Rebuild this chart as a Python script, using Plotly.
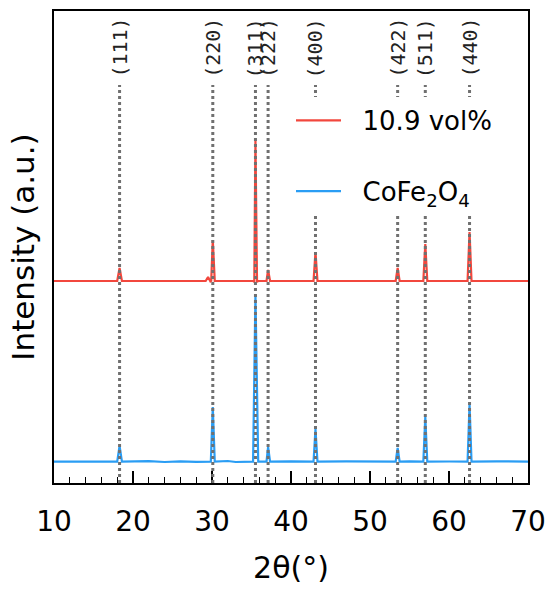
import plotly.graph_objects as go

# Peak positions (2theta, deg) and Miller indices
peak_pos = [18.3, 30.1, 35.5, 37.1, 43.1, 53.5, 57.0, 62.6]
peak_hkl = ["(111)", "(220)", "(311)", "(222)", "(400)", "(422)", "(511)", "(440)"]

# 10.9 vol% pattern (offset trace), arbitrary units
red_x = [10, 18.0, 18.3, 18.6, 29.2, 29.5, 29.8, 29.9, 30.1, 30.35, 35.2, 35.35,
         35.5, 35.7, 35.85, 36.9, 37.1, 37.35, 42.85, 43.1, 43.35, 53.25, 53.5,
         53.75, 56.75, 57.0, 57.25, 62.35, 62.6, 62.85, 70]
red_y = [202, 202, 215, 202, 202, 206, 201.5, 202, 243, 202, 202, 201,
         343, 201, 202, 202, 213, 202, 202, 231, 202, 202, 215,
         202, 202, 239, 202, 202, 251, 202, 202]

# CoFe2O4 pattern, arbitrary units
blue_x = [10, 14, 16, 18.0, 18.3, 18.6, 22, 24, 26, 28, 29.85, 30.1, 30.35, 32, 33,
          35.2, 35.5, 35.85, 36.9, 37.1, 37.35, 40, 42.85, 43.1, 43.35, 47, 50,
          53.25, 53.5, 53.75, 55, 56.75, 57.0, 57.25, 60, 62.35, 62.6, 62.85, 66, 70]
blue_y = [21.3, 21.8, 21.3, 21.3, 37, 21.3, 21.8, 21.0, 21.6, 21.2, 21.3, 76, 21.3, 22.0, 21.0,
          21.3, 188, 21.3, 21.3, 36, 21.3, 21.7, 21.3, 54, 21.3, 21.6, 21.1,
          21.3, 35, 21.3, 21.7, 21.3, 66, 21.3, 21.5, 21.3, 79, 21.3, 21.7, 21.3]

x_ticks = [10, 20, 30, 40, 50, 60, 70]

RED = "#f2473d"
BLUE = "#2a9df4"
GAP = "\u00a0\u00a0"

fig = go.Figure()
fig.add_trace(go.Scatter(x=red_x, y=red_y, mode="lines", name=GAP + "10.9 vol%",
                         legendgroup="a", line=dict(color=RED, width=2.2)))
fig.add_trace(go.Scatter(x=blue_x, y=blue_y, mode="lines",
                         name=GAP + "CoFe<sub>2</sub>O<sub>4</sub>",
                         legendgroup="b", line=dict(color=BLUE, width=2.2)))

for p, h in zip(peak_pos, peak_hkl):
    fig.add_shape(type="line", x0=p, x1=p, xref="x", yref="paper", y0=0, y1=0.843,
                  line=dict(color="#707070", width=3, dash="dot"), layer="above")
    fig.add_annotation(x=p, xref="x", y=0.9216, yref="paper", text=h, textangle=-90,
                       xanchor="center", yanchor="middle",
                       showarrow=False, font=dict(family="DejaVu Sans Mono", size=20,
                                                  color="#222222"))

fig.update_layout(
    width=547, height=589,
    margin=dict(l=54, r=19, t=11, b=106, autoexpand=False),
    paper_bgcolor="white", plot_bgcolor="white",
    font=dict(family="DejaVu Sans", color="black"),
    showlegend=True,
    legend=dict(x=0.5, y=0.818, xanchor="left", yanchor="top",
                bgcolor="white", borderwidth=0, tracegroupgap=34,
                font=dict(size=26, family="DejaVu Sans", color="black"),
                itemwidth=45),
    xaxis=dict(range=[10, 70], tickvals=x_ticks, ticks="inside", ticklen=12,
               tickwidth=1.5, tickcolor="black", automargin=False,
               showline=True, linewidth=2, linecolor="black", mirror=True,
               showgrid=False, zeroline=False,
               tickfont=dict(size=28, family="DejaVu Sans"),
               ticklabelstandoff=12, ticklabeloverflow="allow",
               minor=dict(ticks="inside", ticklen=6, dtick=2, tickcolor="black",
                          tickwidth=1, showgrid=False),
               title=dict(text="2θ(°)", font=dict(size=30), standoff=20)),
    yaxis=dict(range=[0, 472], showticklabels=False, ticks="", automargin=False,
               showline=True, linewidth=2, linecolor="black", mirror=True,
               showgrid=False, zeroline=False,
               title=dict(text="Intensity (a.u.)", font=dict(size=31), standoff=8)),
)

fig.write_html("out.html",
               config={"displayModeBar": False},
               post_script="document.body.style.margin='0';"
                           "document.body.style.overflow='hidden';")
